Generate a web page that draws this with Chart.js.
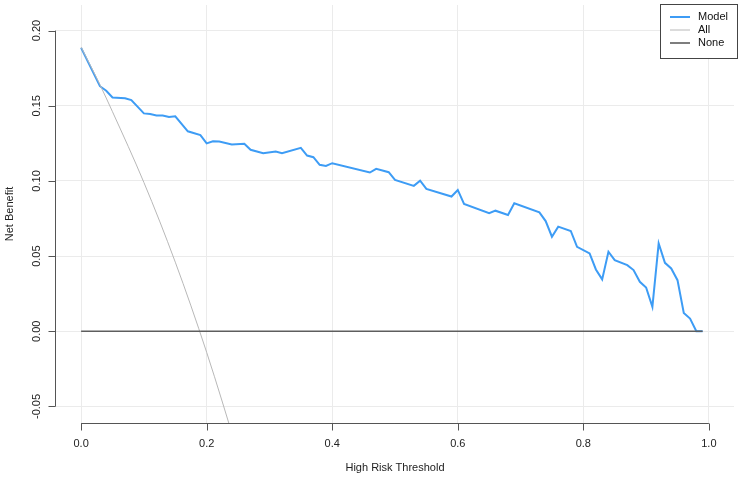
<!DOCTYPE html>
<html>
<head>
<meta charset="utf-8">
<script src="https://cdn.jsdelivr.net/npm/chart.js@4/dist/chart.umd.min.js"></script>
<style>
  html, body { margin: 0; padding: 0; background: #fff; }
  #dca { display: block; }
</style>
</head>
<body>
<canvas id="dca" width="740" height="477"></canvas>
<script>
// ===== DATA =====
const modelX = [0.00, 0.03, 0.04, 0.05, 0.07, 0.08, 0.10, 0.11, 0.12, 0.13, 0.14, 0.15, 0.17, 0.19,
  0.20, 0.21, 0.22, 0.24, 0.26, 0.27, 0.29, 0.31, 0.32, 0.35, 0.36, 0.37, 0.38, 0.39, 0.40,
  0.46, 0.47, 0.49, 0.50, 0.53, 0.54, 0.55, 0.59, 0.60, 0.61, 0.65, 0.66, 0.68, 0.69, 0.73,
  0.74, 0.75, 0.76, 0.78, 0.79, 0.81, 0.82, 0.83, 0.84, 0.85, 0.87, 0.88, 0.89, 0.90, 0.91,
  0.92, 0.93, 0.94, 0.95, 0.96, 0.97, 0.98, 0.99];
const modelY = [0.1885, 0.163, 0.160, 0.1555, 0.155, 0.1538, 0.1449, 0.1445, 0.1435, 0.1435, 0.1425, 0.143, 0.133, 0.1305,
  0.125, 0.1264, 0.1262, 0.1242, 0.1247, 0.1207, 0.1184, 0.1196, 0.1184, 0.122, 0.1169, 0.1158, 0.1107, 0.110, 0.1118,
  0.1056, 0.108, 0.1058, 0.1007, 0.0967, 0.1002, 0.0947, 0.0896, 0.094, 0.0847, 0.0785, 0.0802, 0.0773, 0.0851, 0.0791,
  0.0733, 0.0629, 0.0696, 0.0667, 0.0562, 0.0518, 0.0411, 0.0345, 0.0529, 0.0473, 0.044, 0.0407, 0.0329, 0.0291, 0.0162,
  0.0584, 0.0455, 0.0418, 0.034, 0.0122, 0.0085, 0.0, 0.0];

const allX = [0.00, 0.03, 0.05, 0.10, 0.15, 0.20, 0.25];
const allY = [0.189, 0.164, 0.146, 0.099, 0.046, -0.014, -0.081];

const noneX = [0.00, 0.99];
const noneY = [0.00, 0.00];

const xTicks = [0, 0.2, 0.4, 0.6, 0.8, 1.0];
const xTickLabels = ['0.0', '0.2', '0.4', '0.6', '0.8', '1.0'];
const yTicks = [-0.05, 0, 0.05, 0.10, 0.15, 0.20];
const yTickLabels = ['-0.05', '0.00', '0.05', '0.10', '0.15', '0.20'];

const seriesNames = ['Model', 'All', 'None'];
const modelColor = '#3d9cf5';
const allColor = '#b8b8b8';
const noneColor = '#5e5e5e';
const gridColor = '#ebebeb';
const font = '11px "Liberation Sans", Arial, sans-serif';

const toPoints = (xs, ys) => xs.map((x, i) => ({ x: x, y: ys[i] }));

// ===== R-STYLE AXES + LEGEND =====
const baseAxes = {
  id: 'baseAxes',
  afterDraw(chart) {
    const ctx = chart.ctx;
    const xs = chart.scales.x, ys = chart.scales.y;
    const area = chart.chartArea;
    ctx.save();
    ctx.strokeStyle = '#555';
    ctx.lineWidth = 1;
    ctx.fillStyle = '#222';
    ctx.font = font;

    // x axis
    const xa = Math.round(area.bottom) + 0.5;
    const x0 = xs.getPixelForValue(xTicks[0]), x1 = xs.getPixelForValue(xTicks[xTicks.length - 1]);
    ctx.beginPath();
    ctx.moveTo(x0, xa); ctx.lineTo(x1, xa);
    xTicks.forEach(v => {
      const p = Math.round(xs.getPixelForValue(v)) + 0.5;
      ctx.moveTo(p, xa); ctx.lineTo(p, xa + 7);
    });
    ctx.stroke();
    ctx.textAlign = 'center';
    ctx.textBaseline = 'middle';
    xTicks.forEach((v, i) => ctx.fillText(xTickLabels[i], xs.getPixelForValue(v), xa + 20));
    ctx.fillText('High Risk Threshold', (area.left + area.right) / 2, xa + 44);

    // y axis
    const yaX = Math.round(area.left) - 0.5;
    const y0 = ys.getPixelForValue(yTicks[0]), y1 = ys.getPixelForValue(yTicks[yTicks.length - 1]);
    ctx.beginPath();
    ctx.moveTo(yaX, y0); ctx.lineTo(yaX, y1);
    yTicks.forEach(v => {
      const p = Math.round(ys.getPixelForValue(v)) + 0.5;
      ctx.moveTo(yaX, p); ctx.lineTo(yaX - 7, p);
    });
    ctx.stroke();
    yTicks.forEach((v, i) => {
      ctx.save();
      ctx.translate(yaX - 19, ys.getPixelForValue(v));
      ctx.rotate(-Math.PI / 2);
      ctx.fillText(yTickLabels[i], 0, 0);
      ctx.restore();
    });
    ctx.save();
    ctx.translate(10, (area.top + area.bottom) / 2);
    ctx.rotate(-Math.PI / 2);
    ctx.fillText('Net Benefit', 0, 0);
    ctx.restore();

    // legend box, top right
    const colors = [modelColor, allColor, noneColor];
    const widths = [2, 1, 1.6];
    ctx.fillStyle = '#fff';
    ctx.fillRect(660.5, 4.5, 77, 54);
    ctx.strokeStyle = '#444';
    ctx.lineWidth = 1;
    ctx.strokeRect(660.5, 4.5, 77, 54);
    ctx.textAlign = 'left';
    ctx.fillStyle = '#111';
    seriesNames.forEach((name, i) => {
      const ly = 17 + i * 13;
      ctx.strokeStyle = colors[i];
      ctx.lineWidth = widths[i];
      ctx.beginPath();
      ctx.moveTo(670, ly); ctx.lineTo(690, ly);
      ctx.stroke();
      ctx.fillText(name, 698, ly);
    });
    ctx.restore();
  }
};

new Chart(document.getElementById('dca'), {
  type: 'line',
  data: {
    datasets: [
      { label: seriesNames[2], data: toPoints(noneX, noneY), borderColor: noneColor, borderWidth: 1.6, pointRadius: 0, tension: 0 },
      { label: seriesNames[1], data: toPoints(allX, allY), borderColor: allColor, borderWidth: 1, pointRadius: 0, tension: 0.4, cubicInterpolationMode: 'monotone' },
      { label: seriesNames[0], data: toPoints(modelX, modelY), borderColor: modelColor, borderWidth: 2, pointRadius: 0, tension: 0 }
    ]
  },
  options: {
    responsive: false,
    animation: false,
    layout: { padding: { left: 56, right: 6, top: 5, bottom: 54 } },
    plugins: { legend: { display: false }, tooltip: { enabled: false } },
    scales: {
      x: {
        type: 'linear',
        min: -0.04, max: 1.04,
        afterBuildTicks: s => { s.ticks = xTicks.map(v => ({ value: v })); },
        grid: { color: gridColor, drawTicks: false },
        border: { display: false },
        ticks: { display: false }
      },
      y: {
        type: 'linear',
        min: -0.061, max: 0.217,
        afterBuildTicks: s => { s.ticks = yTicks.map(v => ({ value: v })); },
        grid: { color: gridColor, drawTicks: false },
        border: { display: false },
        ticks: { display: false }
      }
    }
  },
  plugins: [baseAxes]
});
</script>
</body>
</html>
